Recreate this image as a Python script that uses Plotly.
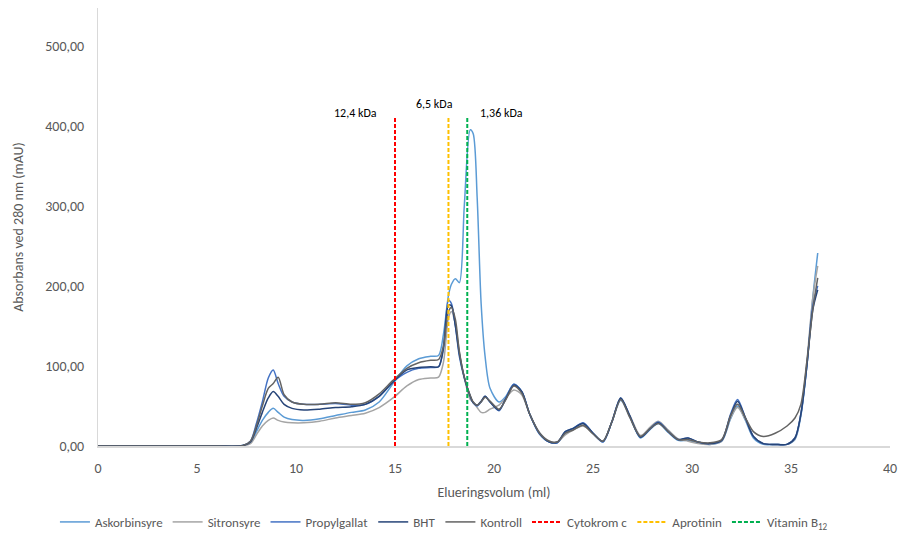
import plotly.graph_objects as go

# Elution volume grid (ml) shared by all chromatograms
volum_ml = [
    0, 6.0, 7.3, 7.7, 8.0, 8.3, 8.6, 8.85, 9.1, 9.4,
    9.8, 10.4, 11.2, 12.0, 12.8, 13.5, 14.2, 14.9, 15.6, 16.2,
    16.8, 17.2, 17.45, 17.7, 17.85, 18.05, 18.25, 18.5, 18.8, 18.95,
    19.15, 19.35, 19.55, 19.8, 20.25, 20.6, 21.0, 21.4, 21.8, 22.3,
    22.8, 23.2, 23.6, 24.0, 24.5, 25.0, 25.5, 25.95, 26.4, 26.85,
    27.4, 27.9, 28.3, 28.8, 29.3, 29.8, 30.3, 30.9, 31.5, 31.95,
    32.3, 32.7, 33.1, 33.6, 34.2, 34.8, 35.2, 35.5, 35.8, 36.1, 36.35,
]

# Absorbance at 280 nm (mAU)
askorbinsyre = [
    0, 0, 0.5, 4, 18, 32, 42, 47, 42, 36,
    33, 32, 34, 38, 42, 45, 55, 78, 100, 109,
    112, 113, 140, 188, 202, 209, 204, 300, 395, 390,
    310, 178, 112, 72, 55, 62, 77, 68, 40, 15,
    5, 4, 16, 22, 28, 16, 5, 30, 57, 37,
    10, 21, 28, 17, 7, 7, 4, 2, 6, 34,
    50, 32, 10, 2, 2, 2, 8, 38, 100, 185, 241,
]
sitronsyre = [
    0, 0, 0.3, 3, 14, 25, 32, 35, 32, 30,
    29, 29, 31, 35, 38, 41, 48, 60, 75, 83,
    85, 86, 105, 160, 168, 152, 118, 85, 58, 55,
    48, 42, 42, 46, 51, 60, 70, 64, 40, 17,
    6, 5, 14, 20, 25, 16, 6, 30, 58, 39,
    13, 24, 31, 20, 9, 6, 3, 2, 6, 35,
    48, 33, 12, 3, 2, 2, 9, 40, 105, 185, 225,
]
propylgallat = [
    0, 0, 0.5, 6, 28, 55, 85, 95, 78, 62,
    55, 52, 52, 53, 51, 52, 62, 80, 92, 97,
    98, 99, 125, 182, 178, 150, 112, 85, 62, 54,
    50, 55, 62, 55, 44, 60, 77, 68, 40, 15,
    5, 4, 18, 22, 29, 16, 5, 30, 60, 38,
    11, 22, 30, 18, 8, 10, 5, 3, 7, 40,
    58, 35, 12, 3, 2, 2, 10, 40, 100, 175, 200,
]
bht = [
    0, 0, 0.5, 5, 22, 42, 60, 68, 62, 52,
    47, 45, 46, 48, 49, 52, 62, 80, 95, 98,
    99, 99, 122, 176, 175, 150, 115, 86, 62, 54,
    51, 56, 62, 55, 45, 59, 76, 68, 40, 16,
    5, 5, 18, 22, 28, 16, 6, 30, 60, 38,
    11, 22, 29, 18, 8, 10, 5, 3, 7, 38,
    56, 35, 12, 3, 2, 2, 10, 40, 100, 170, 195,
]
kontroll = [
    0, 0, 0.5, 6, 25, 50, 72, 78, 86, 64,
    55, 52, 52, 54, 52, 54, 65, 82, 97, 104,
    107, 108, 125, 168, 173, 158, 118, 86, 63, 55,
    51, 55, 61, 56, 46, 58, 75, 66, 40, 16,
    6, 5, 16, 20, 26, 15, 6, 30, 58, 36,
    12, 22, 28, 18, 8, 8, 5, 4, 8, 38,
    52, 35, 18, 12, 16, 25, 35, 52, 105, 170, 210,
]

serie_navn = ["Askorbinsyre", "Sitronsyre", "Propylgallat", "BHT", "Kontroll"]
serie_verdier = [askorbinsyre, sitronsyre, propylgallat, bht, kontroll]
serie_farger = ["#5B9BD5", "#A5A5A5", "#4472C4", "#264478", "#636363"]

# Molecular weight standards: elution volume (ml), marker height, label
standard_navn = ["Cytokrom c", "Aprotinin", "Vitamin B<sub>12</sub>"]
standard_volum = [15.0, 17.7, 18.65]
standard_hoyde = [410, 410, 410]
standard_farger = ["#FF0000", "#FFC000", "#00B050"]
standard_etikett = ["12,4 kDa", "6,5 kDa", "1,36 kDa"]
etikett_x = [13.0, 17.0, 20.4]
etikett_y = [416, 427, 416]

y_ticks = [0, 100, 200, 300, 400, 500]
y_ticktext = ["0,00", "100,00", "200,00", "300,00", "400,00", "500,00"]
x_ticks = [0, 5, 10, 15, 20, 25, 30, 35, 40]

FONT = "Carlito, Calibri, Lato, sans-serif"
GREY = "#595959"

fig = go.Figure()

for navn, verdier, farge in zip(serie_navn, serie_verdier, serie_farger):
    fig.add_trace(go.Scatter(
        x=volum_ml, y=verdier, name=navn, mode="lines",
        line=dict(color=farge, width=1.5, shape="spline", smoothing=0.8),
    ))

for navn, v, h, farge in zip(standard_navn, standard_volum, standard_hoyde, standard_farger):
    fig.add_trace(go.Scatter(
        x=[v, v], y=[0, h], name=navn, mode="lines",
        line=dict(color=farge, width=2, dash="4px,2px"),
    ))

for tekst, x, y in zip(standard_etikett, etikett_x, etikett_y):
    fig.add_annotation(x=x, y=y, text=tekst, showarrow=False,
                       font=dict(family=FONT, size=12, color="#000000"))

fig.update_layout(
    width=906, height=537,
    margin=dict(l=98, r=16, t=8, b=91),
    paper_bgcolor="white", plot_bgcolor="white",
    font=dict(family=FONT, size=14, color=GREY),
    showlegend=True,
    legend=dict(
        orientation="h", xref="container", yref="container",
        x=0.49, xanchor="center", y=0.028, yanchor="middle",
        font=dict(family=FONT, size=13, color=GREY),
        itemwidth=30, tracegroupgap=0,
    ),
    xaxis=dict(
        range=[0, 40], tickvals=x_ticks, showgrid=False, zeroline=False,
        showline=True, linecolor="#D9D9D9", linewidth=1.5,
        ticks="", ticklabelstandoff=8,
        title=dict(text="Elueringsvolum (ml)", standoff=12,
                   font=dict(family=FONT, size=14, color=GREY)),
    ),
    yaxis=dict(
        range=[0, 547], tickvals=y_ticks, ticktext=y_ticktext,
        showgrid=False, zeroline=False,
        showline=True, linecolor="#D9D9D9", linewidth=1,
        ticks="", ticklabelstandoff=10,
        title=dict(text="Absorbans ved 280 nm (mAU)", standoff=18,
                   font=dict(family=FONT, size=14, color=GREY)),
    ),
)

fig.write_html("out.html")
